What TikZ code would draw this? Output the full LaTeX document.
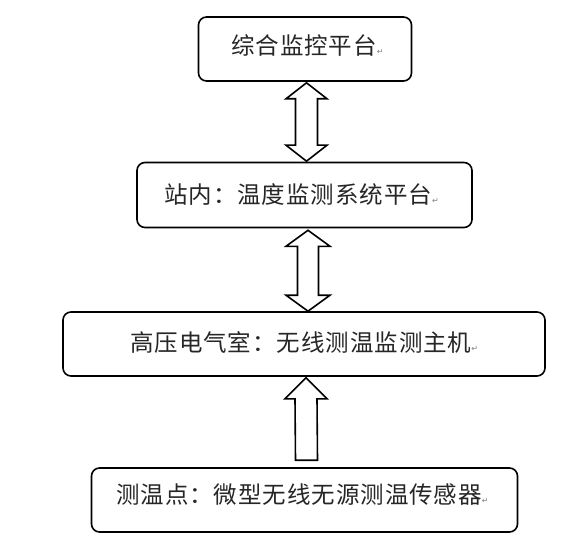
\documentclass[tikz,border=0pt]{standalone}
\usepackage{fontspec}
\newfontfamily\cjk[LetterSpace=4]{Noto Sans CJK SC}
\newfontfamily\symf{DejaVu Sans}
\usetikzlibrary{calc}
\newcommand{\pmark}{{\symf\fontsize{8}{8}\selectfont\color{gray}\char"21B5}}
\tikzset{
  box/.style={draw=black, line width=1.6pt, rounded corners=8pt, inner sep=0pt},
  lbl/.style={anchor=base west, inner sep=0pt, font=\cjk\fontsize{23.5}{27}\selectfont, text=black!85},
  blockarrow/.style={draw=black, line width=1.6pt, fill=white, line join=miter}
}
\begin{document}
\begin{tikzpicture}[x=1pt,y=-1pt]
\useasboundingbox (0,0) rectangle (586,556);
% boxes
\node[box, minimum width=213pt, minimum height=64pt] (b1) at (305,49) {};
\node[box, minimum width=335pt, minimum height=65pt] (b2) at (304.5,195) {};
\node[box, minimum width=482pt, minimum height=64pt] (b3) at (304,344) {};
\node[box, minimum width=426pt, minimum height=64pt] (b4) at (304.5,500) {};
% labels
\node[lbl] (l1) at (231,55) {综合监控平台\pmark};
\node[lbl] (l2) at (164,204) {站内：温度监测系统平台\pmark};
\node[lbl] (l3) at (130,351.5) {高压电气室：无线测温监测主机\pmark};
\node[lbl] (l4) at (116,503) {测温点：微型无线无源测温传感器\pmark};
% arrow tips
\coordinate (t1) at ($(b1.south)+(1.5,1)$);
\coordinate (u1) at ($(b2.north)+(2,-0.5)$);
\coordinate (t2) at ($(b2.south)+(3.5,2)$);
\coordinate (u2) at ($(b3.north)+(4,0)$);
\coordinate (t3) at ($(b3.south)+(2,1)$);
\coordinate (u3) at ($(b4.north)+(2,-7)$);
% double arrow 1
\draw[blockarrow] (t1) -- ++(20.5,16) -- ++(-9.5,0) -- ($(u1)+(11,-16)$) -- ++(9.5,0) -- (u1)
  -- ++(-20.5,-16) -- ++(9.5,0) -- ($(t1)+(-11,16)$) -- ++(-9.5,0) -- cycle;
% double arrow 2
\draw[blockarrow] (t2) -- ++(22,16) -- ++(-11.5,0) -- ($(u2)+(10.5,-16)$) -- ++(11.5,0) -- (u2)
  -- ++(-22,-16) -- ++(11.5,0) -- ($(t2)+(-10.5,16)$) -- ++(-11.5,0) -- cycle;
% single arrow 3 (upward)
\draw[blockarrow] (t3) -- ++(21,21) -- ++(-10,0) -- ($(u3)+(11,0)$) -- ($(u3)+(-11,0)$)
  -- ($(t3)+(-11,21)$) -- ++(-10,0) -- cycle;
\end{tikzpicture}
\end{document}
